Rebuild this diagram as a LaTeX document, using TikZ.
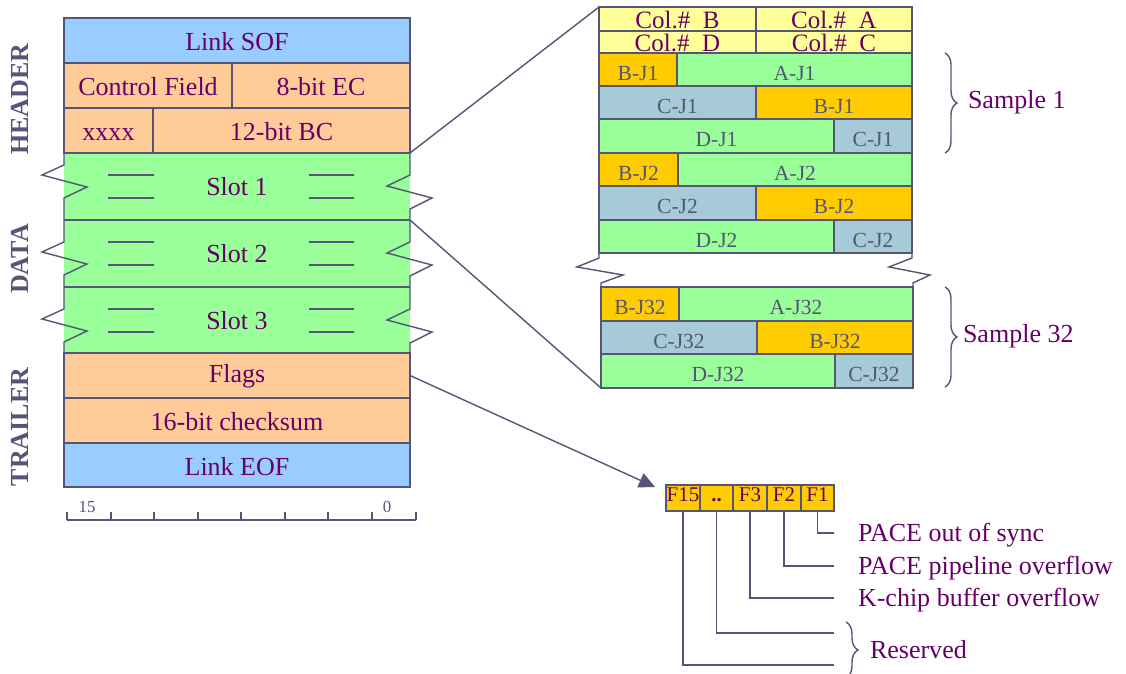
\documentclass[tikz,border=0pt]{standalone}
\usepackage{fontspec}
\setmainfont{Liberation Serif}
\usetikzlibrary{arrows.meta, fit, decorations.pathreplacing}

\definecolor{frame}{HTML}{555577}
\definecolor{ink}{HTML}{660066}
\definecolor{linkblue}{HTML}{99CCFF}
\definecolor{peach}{HTML}{FFCC99}
\definecolor{slotgreen}{HTML}{99FF99}
\definecolor{colyellow}{HTML}{FFFF99}
\definecolor{gold}{HTML}{FFCC00}
\definecolor{chipgray}{HTML}{A6CAD6}

\begin{document}
\begin{tikzpicture}[
        x=0.025cm, y=-0.025cm,
        every node/.style={inner sep=0pt, outer sep=0pt},
        wire/.style={draw=frame, line width=1pt},
        drop/.style={execute at begin node={\lower#1\hbox\bgroup}, execute at end node={\egroup}},
        cell/.style={draw=frame, line width=1pt, font=\fontsize{18.5}{20}\selectfont, text=ink, drop=14.5pt},
        slot/.style={fill=slotgreen, font=\fontsize{18.5}{20}\selectfont, text=ink, drop=13.5pt},
        colcell/.style={draw=frame, line width=1pt, fill=colyellow, font=\fontsize{17.8}{19}\selectfont, text=ink, drop=13.2pt},
        jcell/.style={draw=frame, line width=1pt, font=\fontsize{15.3}{17}\selectfont, text=frame, drop=15.7pt},
        flagcell/.style={draw=frame, line width=1pt, fill=gold, font=\fontsize{14.9}{16}\selectfont, text=ink, drop=4.8pt},
        side/.style={rotate=90, font=\fontsize{18.5}{20}\selectfont\bfseries, text=frame, text height=12.2pt, text depth=0pt},
        annot/.style={anchor=west, font=\fontsize{18.5}{20}\selectfont, text=ink, text height=12.2pt, text depth=0pt},
        tick/.style={font=\fontsize{12}{13}\selectfont, text=frame, text height=7.9pt, text depth=0pt},
        brace/.style={wire, decorate, decoration={brace, amplitude=0.3cm}}
    ]
    \useasboundingbox (0,0) rectangle (1126,674);

    % --- Side labels ---
    \node[side] (hdr) at (20,99) {HEADER};
    \node[side] (dat) at (20,259) {DATA};
    \node[side] (trl) at (20,427) {TRAILER};

    % --- Data slots (fill only, edges drawn below) ---
    \node[slot, fit={(64,153) (410,220)}] (slot1) {Slot 1};
    \node[slot, fit={(64,220) (410,287)}] (slot2) {Slot 2};
    \node[slot, fit={(64,287) (410,353)}] (slot3) {Slot 3};

    % --- Header and trailer words ---
    \node[cell, fill=linkblue, fit={(64,18) (410,63)}] (sof) {Link SOF};
    \node[cell, fill=peach, fit={(64,63) (232,108)}] (ctrl) {Control Field};
    \node[cell, fill=peach, fit={(232,63) (410,108)}] (ec) {8-bit EC};
    \node[cell, fill=peach, fit={(64,108) (153,153)}] (xxxx) {xxxx};
    \node[cell, fill=peach, fit={(153,108) (410,153)}] (bc) {12-bit BC};
    \node[cell, fill=peach, fit={(64,353) (410,398)}] (flags) {Flags};
    \node[cell, fill=peach, fit={(64,398) (410,443)}] (csum) {16-bit checksum};
    \node[cell, fill=linkblue, fit={(64,443) (410,487)}] (eof) {Link EOF};

    % --- Slot edges with break marks ---
    \foreach \t/\b/\a in {153/220/12, 220/287/22, 287/353/22} {
        \draw[wire] (64,\t) -- (64,\t+\a) -- (42,\t+\a+10) -- (87,\t+\a+22) -- (64,\t+\a+33) -- (64,\b);
        \draw[wire] (410,\t) -- (410,\t+22) -- (387,\t+33) -- (432,\t+45) -- (410,\t+56) -- (410,\b);
        \draw[wire] (64,\b) -- (410,\b);
        \draw[wire] (108,\t+22) -- (154,\t+22);
        \draw[wire] (108,\t+45) -- (154,\t+45);
        \draw[wire] (309,\t+22) -- (354,\t+22);
        \draw[wire] (309,\t+45) -- (354,\t+45);
    }

    % --- Bit ruler ---
    \draw[wire] (67,520) -- (416,520);
    \foreach \x in {67,111,154,198,241,285,328,372,416}
        \draw[wire] (\x,520) -- (\x,512);
    \node[tick] (bit15) at (87,507) {15};
    \node[tick] (bit0) at (387,507) {0};

    % --- Column header ---
    \node[colcell, fit={(599,7) (756,31)}] (colb) {Col.\#\ \ B};
    \node[colcell, fit={(756,7) (912,31)}] (cola) {Col.\#\ \ A};
    \node[colcell, fit={(599,31) (756,53)}] (cold) {Col.\#\ \ D};
    \node[colcell, fit={(756,31) (912,53)}] (colc) {Col.\#\ \ C};

    % --- Sample 1 ---
    \node[jcell, fill=gold, fit={(599,53) (677,86)}] (bja) {B-J1};
    \node[jcell, fill=slotgreen, fit={(677,53) (912,86)}] (aja) {A-J1};
    \node[jcell, fill=chipgray, fit={(599,86) (756,119)}] (cja) {C-J1};
    \node[jcell, fill=gold, fit={(756,86) (912,119)}] (bjb) {B-J1};
    \node[jcell, fill=slotgreen, fit={(599,119) (834,153)}] (dja) {D-J1};
    \node[jcell, fill=chipgray, fit={(834,119) (912,153)}] (cjb) {C-J1};

    % --- Sample 2 ---
    \node[jcell, fill=gold, fit={(599,153) (678,186)}] (bjc) {B-J2};
    \node[jcell, fill=slotgreen, fit={(678,153) (912,186)}] (ajc) {A-J2};
    \node[jcell, fill=chipgray, fit={(599,186) (756,220)}] (cjc) {C-J2};
    \node[jcell, fill=gold, fit={(756,186) (912,220)}] (bjd) {B-J2};
    \node[jcell, fill=slotgreen, fit={(599,220) (834,253)}] (djc) {D-J2};
    \node[jcell, fill=chipgray, fit={(834,220) (912,253)}] (cjd) {C-J2};

    % --- Sample 32 ---
    \node[jcell, fill=gold, fit={(601,287) (679,321)}] (bje) {B-J32};
    \node[jcell, fill=slotgreen, fit={(679,287) (913,321)}] (aje) {A-J32};
    \node[jcell, fill=chipgray, fit={(601,321) (757,354)}] (cje) {C-J32};
    \node[jcell, fill=gold, fit={(757,321) (913,354)}] (bjf) {B-J32};
    \node[jcell, fill=slotgreen, fit={(601,354) (835,388)}] (dje) {D-J32};
    \node[jcell, fill=chipgray, fit={(835,354) (913,388)}] (cjf) {C-J32};

    % break between samples
    \draw[wire] (djc.south west) -- ++(0,5) -- (577,267) -- (623,275) -- (601,283) -- (bje.north west);
    \draw[wire] (cjd.south east) -- ++(0,5) -- (889,267) -- (930,275) -- (913,283) -- (aje.north east);

    % --- Sample braces ---
    \draw[brace] (945,53) -- (945,153);
    \node[annot] (samp1) at (968,100) {Sample 1};
    \draw[brace] (945,287) -- (945,387);
    \node[annot] (samp32) at (963,334) {Sample 32};

    % --- Zoom lines ---
    \draw[wire] (slot1.north east) -- (colb.north west);
    \draw[wire] (slot1.south east) -- (dje.south west);

    % --- Flag word ---
    \node[flagcell, fit={(666,485) (700,511)}] (f15) {F15};
    \node[flagcell, fit={(700,485) (733,511)}] (fdots) {\textbf{..}};
    \node[flagcell, fit={(733,485) (767,511)}] (f3) {F3};
    \node[flagcell, fit={(767,485) (801,511)}] (f2) {F2};
    \node[flagcell, fit={(801,485) (834,511)}] (f1) {F1};

    \coordinate (flagtip) at (655,487);
    \draw[wire, -{Triangle[length=0.4cm, width=0.38cm]}] (flags.east) -- (flagtip);

    % --- Flag meanings ---
    \node[annot] (sync) at (858,533) {PACE out of sync};
    \node[annot] (pipe) at (858,566) {PACE pipeline overflow};
    \node[annot] (kchip) at (858,598) {K-chip buffer overflow};
    \node[annot] (resv) at (870,650) {Reserved};
    \coordinate (resa) at (834,633);
    \coordinate (resb) at (834,665);

    \draw[wire] (f1.south) |- (sync.west -| f1.east);
    \draw[wire] (f2.south) |- (pipe.west -| f1.east);
    \draw[wire] (f3.south) |- (kchip.west -| f1.east);
    \draw[wire] (fdots.south) |- (resa);
    \draw[wire] (f15.south) |- (resb);
    \draw[brace] (846,622) -- (846,678);
\end{tikzpicture}
\end{document}
